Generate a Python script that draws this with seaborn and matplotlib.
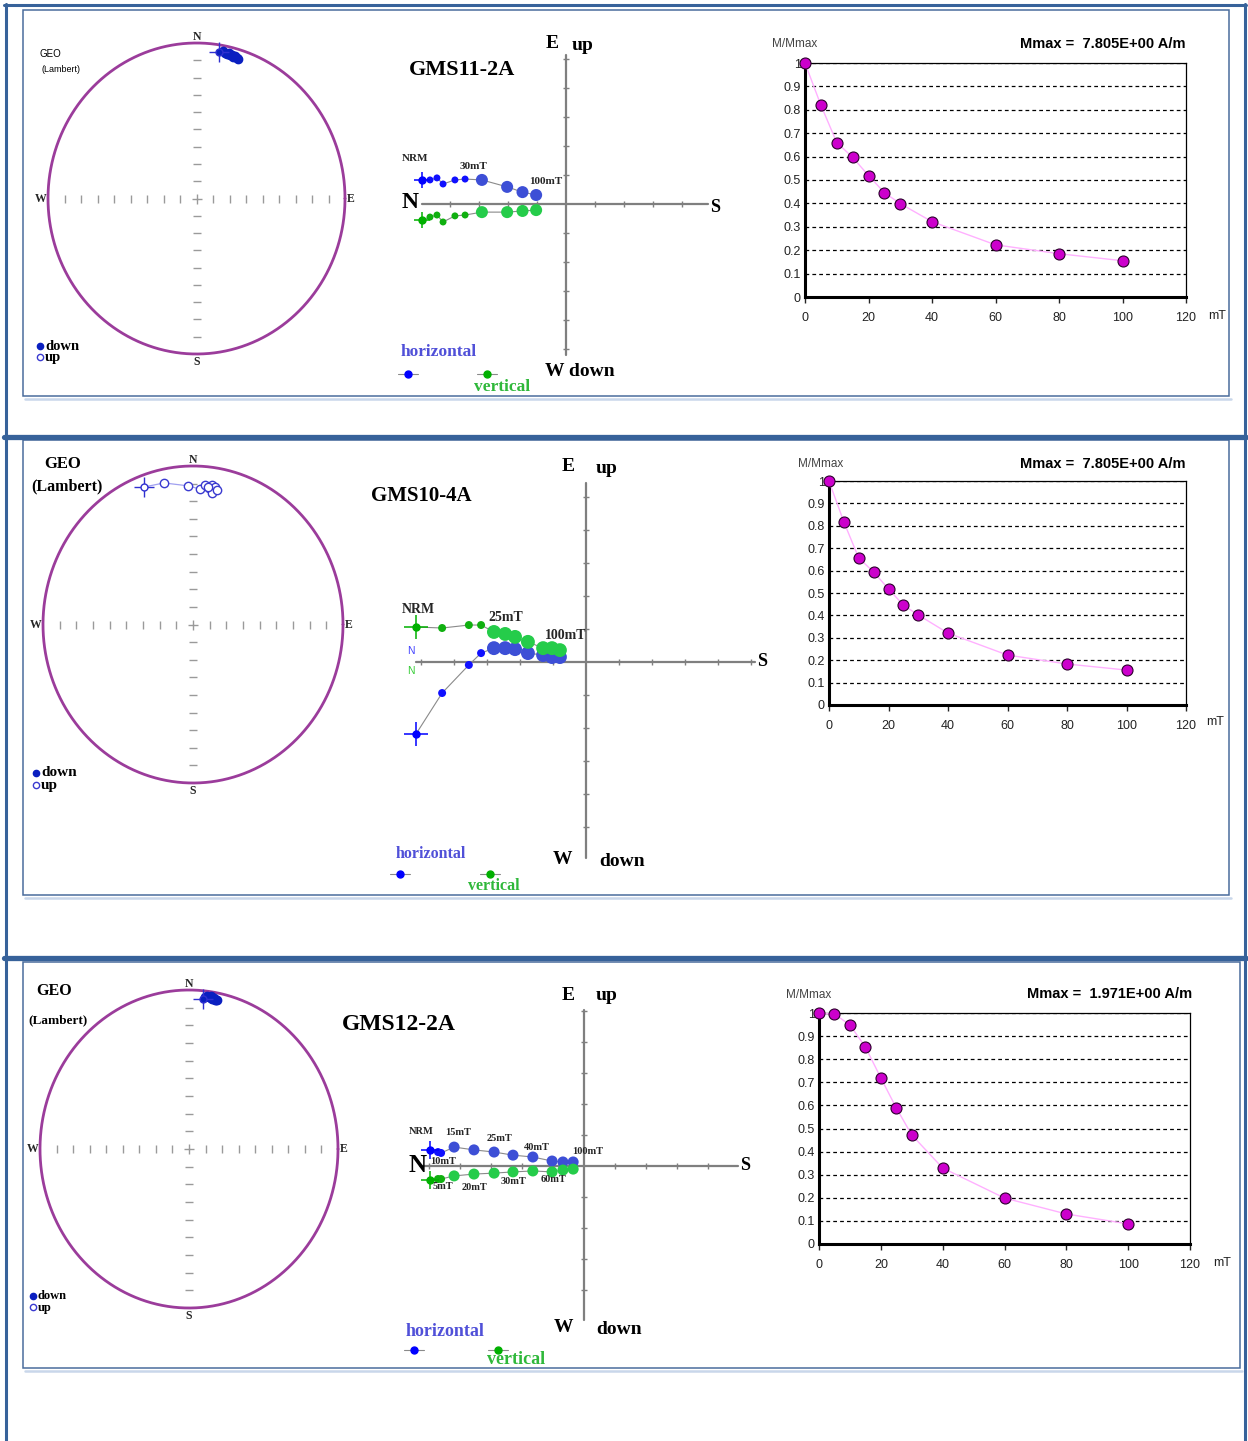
import numpy as np
import matplotlib
matplotlib.use('Agg')
import matplotlib.pyplot as plt
import seaborn as sns
from matplotlib.patches import Rectangle

sns.set_style('white')
plt.rcParams['font.family'] = ['Liberation Sans', 'DejaVu Sans']

W, H = 1248, 1441
SERIF = ['Liberation Serif', 'DejaVu Serif']
SANS = ['Liberation Sans', 'DejaVu Sans']

# ---------------- data ----------------
samples = ['GMS11-2A', 'GMS10-4A', 'GMS12-2A']
mmax_labels = ['Mmax =  7.805E+00 A/m', 'Mmax =  7.805E+00 A/m', 'Mmax =  1.971E+00 A/m']

# AF demagnetisation steps (mT) and normalised intensity M/Mmax
demag_steps = [0, 5, 10, 15, 20, 25, 30, 40, 60, 80, 100]
mnorm_1 = [1.0, 0.82, 0.66, 0.597, 0.519, 0.446, 0.399, 0.322, 0.223, 0.185, 0.155]
mnorm_2 = [1.0, 0.817, 0.656, 0.594, 0.518, 0.446, 0.402, 0.321, 0.223, 0.183, 0.156]
mnorm_3 = [1.0, 0.996, 0.948, 0.853, 0.719, 0.589, 0.472, 0.329, 0.199, 0.13, 0.087]

# Zijderveld components (tick units): north, east, up
north_1 = [4.97, 4.69, 4.45, 4.24, 3.83, 3.48, 2.90, 2.03, 1.50, 1.03]
east_1 = [0.83, 0.83, 0.90, 0.69, 0.83, 0.86, 0.83, 0.59, 0.41, 0.31]
up_1 = [-0.55, -0.45, -0.38, -0.62, -0.41, -0.38, -0.28, -0.28, -0.24, -0.21]

north_2 = [5.15, 4.36, 3.55, 3.18, 2.79, 2.45, 2.15, 1.76, 1.30, 1.03, 0.79]
east_2 = [-2.18, -0.94, -0.09, 0.27, 0.42, 0.42, 0.39, 0.27, 0.21, 0.15, 0.15]
up_2 = [1.06, 1.03, 1.12, 1.12, 0.91, 0.85, 0.76, 0.61, 0.42, 0.42, 0.36]

north_3 = [4.97, 4.71, 4.61, 4.19, 3.55, 2.90, 2.29, 1.65, 1.03, 0.68, 0.35]
east_3 = [0.52, 0.45, 0.42, 0.61, 0.52, 0.45, 0.35, 0.29, 0.16, 0.13, 0.13]
up_3 = [-0.45, -0.42, -0.42, -0.32, -0.26, -0.23, -0.19, -0.16, -0.19, -0.13, -0.10]

# stereonet directions (declination, inclination in degrees)
dec_1 = [9.2, 10.5, 11.5, 12.5, 13.0, 13.8, 14.5, 15.2, 16.0, 16.8, 17.2]
inc_1 = [5.2, 4.0, 4.8, 5.5, 4.5, 5.8, 5.0, 6.2, 5.5, 6.0, 6.5]
dec_2 = [-20.6, -12.2, -2.2, 3.1, 5.2, 7.0, 8.2, 9.6, 8.7, 6.5, 10.5]
inc_2 = [-8.1, -9.5, -13.5, -15.5, -12.5, -14.0, -12.0, -13.0, -17.0, -13.5, -15.0]
dec_3 = [5.7, 6.5, 7.2, 8.0, 8.6, 9.0, 9.5, 10.0, 10.4, 10.8, 11.2]
inc_3 = [5.5, 4.0, 3.5, 4.2, 3.0, 4.5, 5.0, 4.0, 5.0, 5.5, 4.8]

# ---------------- helpers ----------------
FRAME = '#37629a'
BOXC = '#4a6c9c'
PURPLE = '#9b3c9b'
AXG = '#7f7f7f'
HCOL = '#5050d8'
VCOL = '#2fb83a'

fig = plt.figure(figsize=(W / 100, H / 100), dpi=100)


def px_axes(x0, y0, x1, y1, **kw):
    return fig.add_axes([x0 / W, 1 - y1 / H, (x1 - x0) / W, (y1 - y0) / H], **kw)


def ftext(x, y, s, size=10, serif=True, bold=True, color='black', ha='center', va='center'):
    fig.text(x / W, 1 - y / H, s, fontsize=size, family=SERIF if serif else SANS,
             fontweight='bold' if bold else 'normal', color=color, ha=ha, va=va)


bg = px_axes(0, 0, W, H, zorder=-5)
bg.set_xlim(0, W)
bg.set_ylim(H, 0)
bg.axis('off')

# page frame and section separators
bg.plot([5.5, 5.5], [4, H], color=FRAME, lw=2.2)
bg.plot([1244.5, 1244.5], [4, H], color=FRAME, lw=2.2)
bg.plot([4, 1246], [5, 5], color=FRAME, lw=2.2)
bg.plot([4, 1246], [436.5, 436.5], color=FRAME, lw=3.8)
bg.plot([4, 1246], [957.5, 957.5], color=FRAME, lw=3.8)
for (x0, y0, x1, y1) in [(23, 10, 1229, 396), (23, 440, 1229, 895), (23, 962, 1240, 1368)]:
    bg.add_patch(Rectangle((x0, y0), x1 - x0, y1 - y0, fill=False, ec=BOXC, lw=1.1))
    bg.plot([x0 + 2, x1 + 2], [y1 + 3, y1 + 3], color='#c9d7ea', lw=1.8)


def stereonet(cx, cy, rx, ry, dec, inc, filled, lab_size):
    pad = 1.12
    ax = px_axes(cx - pad * rx, cy - pad * ry, cx + pad * rx, cy + pad * ry)
    ax.set_xlim(-pad, pad)
    ax.set_ylim(-pad, pad)
    ax.axis('off')
    ax.patch.set_alpha(0)
    t = np.linspace(0, 2 * np.pi, 500)
    ax.plot(np.cos(t), np.sin(t), color=PURPLE, lw=2.0)
    k = np.arange(1, 9) / 9
    kk = np.concatenate([-k, k])
    ax.plot(np.zeros(kk.size), kk, ls='none', marker='_', ms=6, mew=1, color='#9a9a9a')
    ax.plot(kk, np.zeros(kk.size), ls='none', marker='|', ms=6, mew=1, color='#9a9a9a')
    ax.plot(0, 0, marker='+', ms=7, mew=1, color='#9a9a9a')
    d = np.radians(dec)
    i = np.radians(np.abs(inc))
    r = np.sqrt(2) * np.sin((np.pi / 2 - i) / 2)
    x, y = r * np.sin(d), r * np.cos(d)
    if filled:
        ax.plot(x, y, color='#0a1fc0', lw=2.2, zorder=3)
        ax.plot(x[1:], y[1:], ls='none', marker='o', ms=6, color='#0a1fc0', zorder=4)
    else:
        ax.plot(x, y, color='#a0a0f0', lw=0.9, zorder=3)
        ax.plot(x[1:], y[1:], ls='none', marker='o', ms=6, mfc='white', mec='#3a3ad0', mew=1, zorder=4)
    ax.plot(x[0], y[0], marker='+', ms=15, mew=1, color='#3030d0', zorder=5)
    ax.plot(x[0], y[0], marker='o', ms=5, mfc='white' if not filled else '#0a1fc0', mec='#3030d0', zorder=5)
    kw = dict(fontsize=lab_size, family=SERIF, fontweight='bold')
    ax.text(0, 1.0, 'N', ha='center', va='bottom', **kw)
    ax.text(0, -1.01, 'S', ha='center', va='top', **kw)
    ax.text(-1.01, 0, 'W', ha='right', va='center', **kw)
    ax.text(1.01, 0, 'E', ha='left', va='center', **kw)
    return ax


def zijderveld(box, origin, scale, north, east, up, ext, sizes, labels, lab_size, cross):
    x0, y0, x1, y1 = box
    ox, oy = origin
    ax = px_axes(*box)
    ax.set_xlim((x0 - ox) / scale, (x1 - ox) / scale)
    ax.set_ylim((oy - y1) / scale, (oy - y0) / scale)
    ax.axis('off')
    ax.patch.set_alpha(0)
    l, r, b, t = ext
    ax.plot([l, r], [0, 0], color=AXG, lw=1.6, zorder=1)
    ax.plot([0, 0], [b, t], color=AXG, lw=1.6, zorder=1)
    xt = [v for v in range(int(np.ceil(l)), int(np.floor(r)) + 1) if v != 0]
    yt = [v for v in range(int(np.ceil(b)), int(np.floor(t)) + 1) if v != 0]
    ax.plot(xt, np.zeros(len(xt)), ls='none', marker='|', ms=5, mew=1, color=AXG)
    ax.plot(np.zeros(len(yt)), yt, ls='none', marker='_', ms=5, mew=1, color=AXG)
    x = -np.asarray(north)
    e = np.asarray(east)
    u = np.asarray(up)
    n = len(x)
    hc = ['#1010ff' if s < 50 else '#3d4fd6' for s in sizes]
    vc = ['#10b010' if s < 50 else '#25cc4a' for s in sizes]
    ax.plot(x, e, color='#8a8a8a', lw=0.8, zorder=2)
    ax.plot(x, u, color='#8a8a8a', lw=0.8, zorder=2)
    sns.scatterplot(x=x[1:], y=e[1:], s=sizes[1:], c=hc[1:], linewidth=0, ax=ax, zorder=3, legend=False)
    sns.scatterplot(x=x[1:], y=u[1:], s=sizes[1:], c=vc[1:], linewidth=0, ax=ax, zorder=3, legend=False)
    for yy, col in [(e[0], '#0000ff'), (u[0], '#00b000')]:
        ax.plot(x[0], yy, marker='+', ms=cross, mew=1.1, color=col, zorder=4)
        ax.plot(x[0], yy, marker='o', ms=5, color=col, zorder=4)
    for txt, ser, idx, dx, dy in labels:
        yy = e[idx] if ser == 'h' else u[idx]
        ax.annotate(txt, (x[idx], yy), xytext=(dx, dy), textcoords='offset pixels',
                    ha='center', va='center', fontsize=lab_size, family=SERIF, fontweight='bold')
    ax.set_xlabel('')
    ax.set_ylabel('')
    return ax


def demag(box, mnorm):
    ax = px_axes(*box)
    sns.lineplot(x=demag_steps, y=mnorm, ax=ax, color='#ffb0ff', lw=1.0, zorder=3)
    sns.scatterplot(x=demag_steps, y=mnorm, ax=ax, s=63, color='#cc00cc', edgecolor='#2b002b',
                    linewidth=0.8, zorder=4, clip_on=False)
    ax.set_xlim(0, 120)
    ax.set_ylim(0, 1)
    ax.set_xticks(range(0, 121, 20))
    yt = np.round(np.arange(0, 1.01, 0.1), 1)
    ax.set_yticks(yt)
    ax.set_yticklabels(['0'] + ['%.1f' % v for v in yt[1:-1]] + ['1'])
    ax.set_axisbelow(True)
    ax.yaxis.grid(True, color='black', ls=(0, (3, 2.5)), lw=0.9)
    ax.xaxis.grid(False)
    for s in ['top', 'right']:
        ax.spines[s].set_color('black')
        ax.spines[s].set_linewidth(0.9)
    for s in ['left', 'bottom']:
        ax.spines[s].set_color('black')
        ax.spines[s].set_linewidth(2.2)
    ax.tick_params(axis='y', length=0, pad=3, labelsize=9, labelcolor='#222222')
    ax.tick_params(axis='x', length=4, width=1, pad=7, labelsize=9, labelcolor='#222222',
                   direction='out', bottom=True)
    ax.set_xlabel('')
    ax.set_ylabel('')
    return ax


def legend_keys(hx, vx, y):
    for xx, col in [(hx, '#0000ff'), (vx, '#00b000')]:
        bg.plot([xx - 10, xx + 10], [y, y], color='#8a8a8a', lw=0.8)
        bg.plot(xx, y, marker='o', ms=5, color=col)


def updown(x, yd, yu, size):
    bg.plot(x, yd, marker='o', ms=4.5, color='#0a1fc0')
    bg.plot(x, yu, marker='o', ms=4.5, mfc='white', mec='#3a3ad0', mew=1)
    ftext(x + 5, yd, 'down', size, ha='left')
    ftext(x + 5, yu + 1, 'up', size, ha='left')


# ---------------- panel 1 ----------------
stereonet(196.5, 198.5, 148.5, 155.5, dec_1, inc_1, True, 8.5)
ftext(50, 54, 'GEO', 7, serif=False, bold=False)
ftext(61, 70, '(Lambert)', 6.5, serif=False, bold=False)
updown(40, 346, 357, 10.5)

sz1 = [25] * 6 + [75] * 4
zijderveld((380, 30, 740, 390), (566, 204), 29, north_1, east_1, up_1,
           (-4.97, 4.90, -5.21, 5.14), sz1,
           [('NRM', 'h', 0, -7, 21), ('30mT', 'h', 6, -8, 13), ('100mT', 'h', 9, 10, 14)], 8, 12)
ftext(462, 70, samples[0], 16)
ftext(552, 43, 'E', 14)
ftext(583, 45, 'up', 14)
ftext(580, 371, 'W down', 14)
ftext(410, 203, 'N', 17)
ftext(715, 207, 'S', 13)
ftext(439, 352, 'horizontal', 12.5, color=HCOL)
ftext(502, 387, 'vertical', 12.5, color=VCOL)
legend_keys(408, 487, 374)

demag((805, 63, 1186, 297), mnorm_1)
ftext(795, 44, 'M/Mmax', 8.5, serif=False, bold=False, color='#444444')
ftext(1185, 44, mmax_labels[0], 10.5, serif=False, ha='right')
ftext(1217, 316, 'mT', 9, serif=False, bold=False, color='#222222')

# ---------------- panel 2 ----------------
stereonet(193, 624.5, 150, 158.5, dec_2, inc_2, False, 8.5)
ftext(63, 464, 'GEO', 12)
ftext(67, 486, '(Lambert)', 11.5)
updown(36, 773, 785, 11)

sz2 = [33] * 4 + [100] * 7
zijderveld((395, 460, 775, 880), (586, 662), 33, north_2, east_2, up_2,
           (-5.15, 5.12, -5.94, 5.42), sz2,
           [('NRM', 'v', 0, 2, 18), ('25mT', 'v', 5, 1, 16), ('100mT', 'v', 10, 6, 15)], 10, 17)
ftext(421, 496, samples[1], 15)
ftext(568, 467, 'E', 14)
ftext(607, 469, 'up', 14)
ftext(562, 860, 'W', 14)
ftext(622, 862, 'down', 14)
ftext(762, 661, 'S', 13)
ftext(411, 651, 'N', 7.5, serif=False, bold=False, color='#4040ff')
ftext(411, 671, 'N', 7.5, serif=False, bold=False, color='#33cc33')
ftext(431, 854, 'horizontal', 11.5, color=HCOL)
ftext(494, 886, 'vertical', 11.5, color=VCOL)
legend_keys(400, 490, 874)

demag((829, 481, 1186, 705), mnorm_2)
ftext(821, 464, 'M/Mmax', 8.5, serif=False, bold=False, color='#444444')
ftext(1186, 464, mmax_labels[1], 10.5, serif=False, ha='right')
ftext(1215, 722, 'mT', 9, serif=False, bold=False, color='#222222')

# ---------------- panel 3 ----------------
stereonet(189, 1149, 149, 159, dec_3, inc_3, True, 8.5)
ftext(54, 991, 'GEO', 11.5)
ftext(58, 1020, '(Lambert)', 9.5)
updown(33, 1296, 1307, 9)

sz3 = [33] * 3 + [63] * 8
zijderveld((400, 990, 760, 1340), (584, 1166), 31, north_3, east_3, up_3,
           (-5.29, 4.97, -4.97, 5.03), sz3,
           [('NRM', 'h', 0, -9, 18), ('15mT', 'h', 3, 4, 15), ('25mT', 'h', 5, 5, 14),
            ('40mT', 'h', 7, 4, 10), ('100mT', 'h', 10, 15, 10), ('10mT', 'h', 2, 2, -9),
            ('5mT', 'v', 1, 5, -7), ('20mT', 'v', 4, 1, -13), ('30mT', 'v', 6, 0, -10),
            ('60mT', 'v', 8, 1, -8)], 7.5, 13)
ftext(399, 1024, samples[2], 17)
ftext(568, 995, 'E', 14)
ftext(607, 996, 'up', 14)
ftext(563, 1328, 'W', 14)
ftext(619, 1330, 'down', 14)
ftext(745, 1166, 'S', 13)
ftext(418, 1166, 'N', 18)
ftext(445, 1332, 'horizontal', 13, color=HCOL)
ftext(516, 1359, 'vertical', 13, color=VCOL)
legend_keys(414, 498, 1350)

demag((819, 1013, 1190, 1244), mnorm_3)
ftext(809, 995, 'M/Mmax', 8.5, serif=False, bold=False, color='#444444')
ftext(1192, 994, mmax_labels[2], 10.5, serif=False, ha='right')
ftext(1222, 1263, 'mT', 9, serif=False, bold=False, color='#222222')

fig.savefig('out.png', dpi=100)
